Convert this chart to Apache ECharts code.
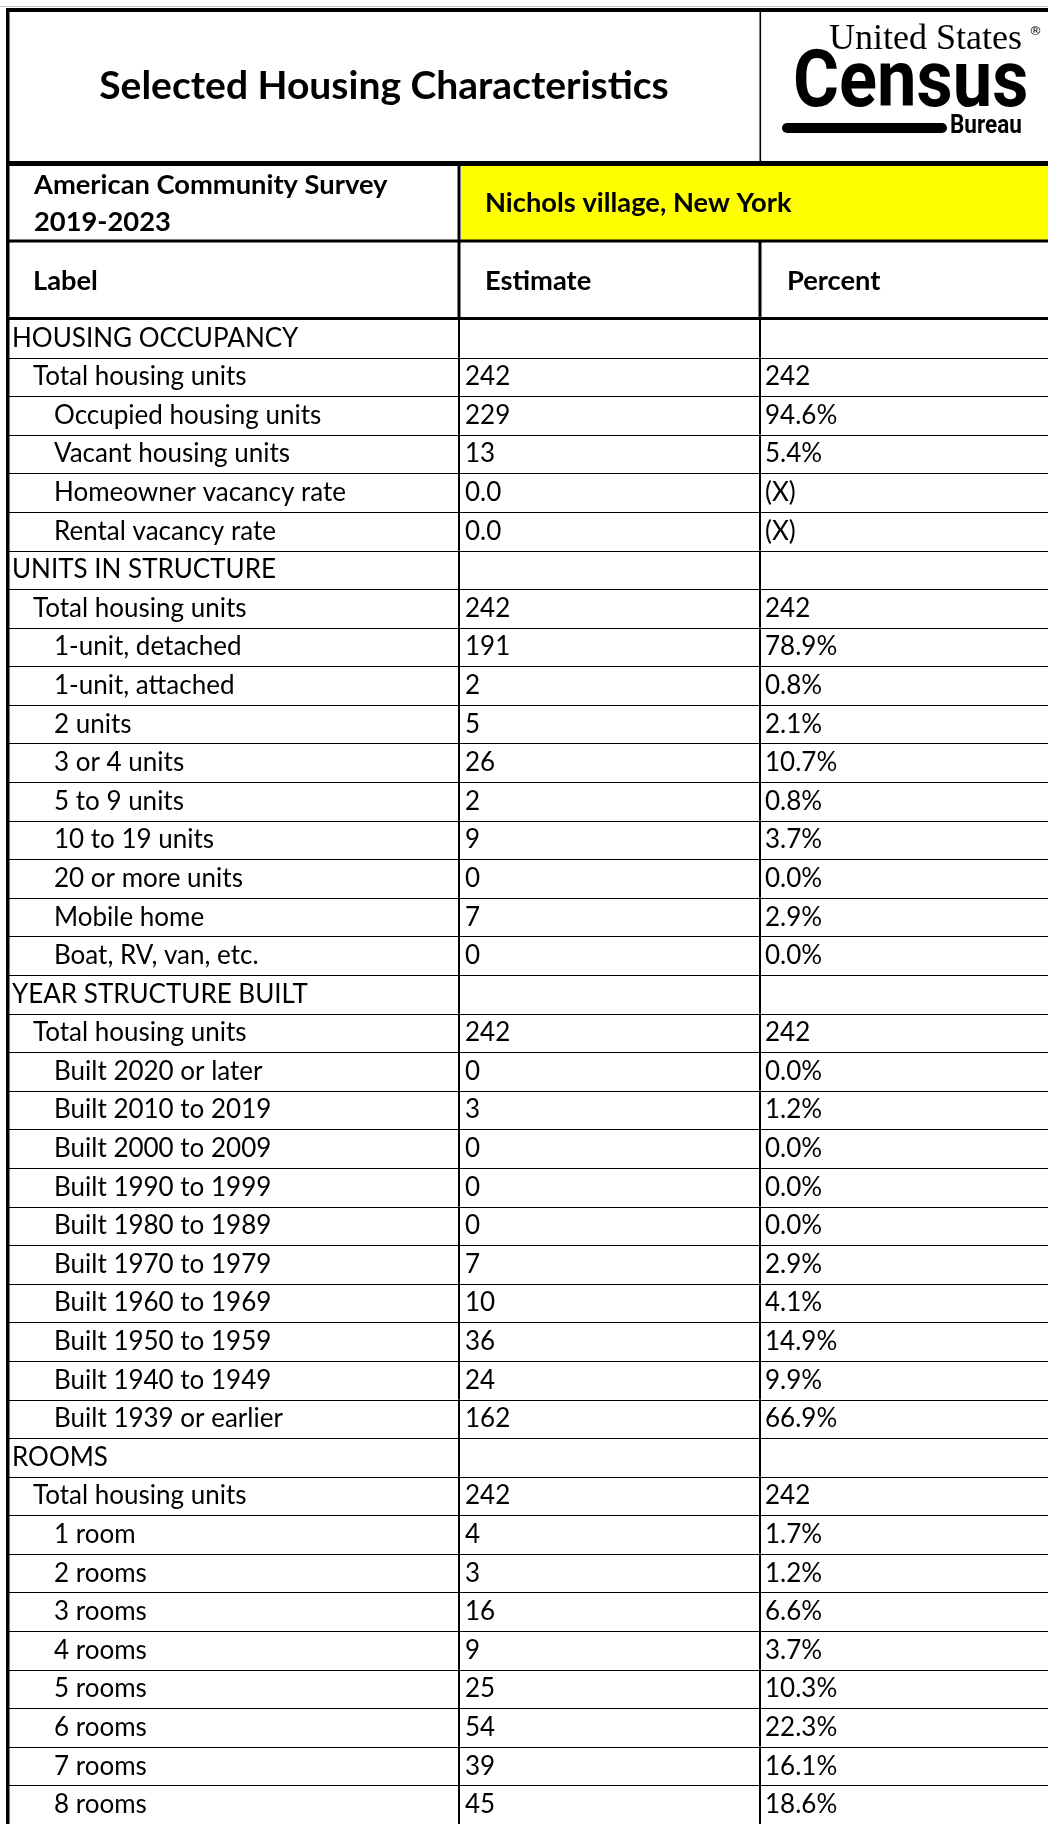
<!DOCTYPE html>
<html><head><meta charset="utf-8">
<script src="https://cdn.jsdelivr.net/npm/echarts@6/dist/echarts.min.js"></script>
<style>html,body{margin:0;padding:0;background:#fff}#c{width:1048px;height:1824px}</style>
</head><body><div id="c"></div>
<script>
// ---- data ----
const rowLabels = [
  'HOUSING OCCUPANCY','Total housing units','Occupied housing units','Vacant housing units','Homeowner vacancy rate','Rental vacancy rate',
  'UNITS IN STRUCTURE','Total housing units','1-unit, detached','1-unit, attached','2 units','3 or 4 units','5 to 9 units','10 to 19 units','20 or more units','Mobile home','Boat, RV, van, etc.',
  'YEAR STRUCTURE BUILT','Total housing units','Built 2020 or later','Built 2010 to 2019','Built 2000 to 2009','Built 1990 to 1999','Built 1980 to 1989','Built 1970 to 1979','Built 1960 to 1969','Built 1950 to 1959','Built 1940 to 1949','Built 1939 or earlier',
  'ROOMS','Total housing units','1 room','2 rooms','3 rooms','4 rooms','5 rooms','6 rooms','7 rooms','8 rooms'
];
const rowLevels = [
  0,1,2,2,2,2,
  0,1,2,2,2,2,2,2,2,2,2,
  0,1,2,2,2,2,2,2,2,2,2,2,
  0,1,2,2,2,2,2,2,2,2
];
const estimates = [
  '','242','229','13','0.0','0.0',
  '','242','191','2','5','26','2','9','0','7','0',
  '','242','0','3','0','0','0','7','10','36','24','162',
  '','242','4','3','16','9','25','54','39','45'
];
const percents = [
  '','242','94.6%','5.4%','(X)','(X)',
  '','242','78.9%','0.8%','2.1%','10.7%','0.8%','3.7%','0.0%','2.9%','0.0%',
  '','242','0.0%','1.2%','0.0%','0.0%','0.0%','2.9%','4.1%','14.9%','9.9%','66.9%',
  '','242','1.7%','1.2%','6.6%','3.7%','10.3%','22.3%','16.1%','18.6%'
];
const titleText = 'Selected Housing Characteristics';
const surveyLines = ['American Community Survey', '2019-2023'];
const placeText = 'Nichols village, New York';
const columnHeaders = ['Label', 'Estimate', 'Percent'];
const logoTexts = ['United States', '®', 'Census', 'Bureau'];

// ---- layout ----
const FONT = 'Lato';
const BODY_SIZE = 26;
const HEAD_SIZE = 27.3;
const ROW_H = 38.7;
const GRID_TOP = 319;
const colEdges = [0, 451, 752, 1040];   // axis units (px offset from grid left = 8)
const indentX = [4, 25, 46];

const chart = echarts.init(document.getElementById('c'), null, {renderer: 'canvas'});

function renderRow(params, api) {
  const i = api.value(1);
  const c = api.coord([0, i]);
  const h = api.size([0, 1])[1];
  const top = c[1] - h / 2, bottom = c[1] + h / 2, mid = c[1];
  const px = v => api.coord([v, i])[0];
  const font = BODY_SIZE + 'px ' + FONT;
  const children = [];
  const cells = [
    [indentX[rowLevels[i]], rowLabels[i]],
    [colEdges[1] + 6, estimates[i]],
    [colEdges[2] + 5, percents[i]]
  ];
  cells.forEach(([x, t]) => {
    if (!t) return;
    children.push({type: 'text', style: {text: t, x: px(x), y: mid, font: font, fill: '#000', align: 'left', verticalAlign: 'middle'}});
  });
  const yb = Math.round(bottom) + 0.5;
  children.push({type: 'line', shape: {x1: px(colEdges[0]), y1: yb, x2: px(colEdges[3]), y2: yb}, style: {stroke: '#000', lineWidth: 1}});
  [1, 2].forEach(k => {
    const x = Math.round(px(colEdges[k]));
    children.push({type: 'line', shape: {x1: x, y1: top, x2: x, y2: bottom}, style: {stroke: '#000', lineWidth: 2}});
  });
  return {type: 'group', children: children};
}

const bold = (s) => 'bold ' + s + 'px ' + FONT;
const txt = (text, x, y, font, align) => ({type: 'text', z: 10, style: {text, x, y, font, fill: '#000', align: align || 'left', verticalAlign: 'middle'}});
const rect = (x, y, w, h, fill, z) => ({type: 'rect', z: z || 5, shape: {x, y, width: w, height: h}, style: {fill}});

const graphics = [
  rect(461, 166, 587, 74, '#FFFF00', 1),
  rect(0, 6, 1048, 1, '#c8c8c8', 2),
  rect(6, 8, 1042, 4, '#000'),
  rect(6, 8, 3.5, 1816, '#000'),
  rect(759.5, 12, 1.6, 150, '#000'),
  rect(6, 161, 1042, 5, '#000'),
  rect(457.5, 166, 3, 75, '#000'),
  rect(6, 239.5, 1042, 3, '#000'),
  rect(457.5, 242, 3, 76, '#000'),
  rect(758.5, 242, 3, 76, '#000'),
  rect(6, 317, 1042, 3, '#000'),
  txt(titleText, 384, 86, bold(39), 'center'),
  txt(surveyLines[0], 34, 185, bold(HEAD_SIZE)),
  txt(surveyLines[1], 34, 222, bold(HEAD_SIZE)),
  txt(placeText, 485, 203, bold(HEAD_SIZE)),
  txt(columnHeaders[0], 33, 281, bold(HEAD_SIZE)),
  txt(columnHeaders[1], 485, 281, bold(HEAD_SIZE)),
  txt(columnHeaders[2], 787, 281, bold(HEAD_SIZE)),
  // logo
  txt(logoTexts[0], 829, 40, '36px "Liberation Serif"'),
  txt(logoTexts[1], 1029, 32, '13px "DejaVu Sans"'),
  {type: 'text', z: 10, x: 793, y: 86, scaleX: 0.88, style: {text: logoTexts[2], x: 0, y: 0, font: 'bold 80px Roboto', fill: '#000', align: 'left', verticalAlign: 'middle'}},
  {type: 'rect', z: 10, shape: {x: 782, y: 123, width: 165, height: 10, r: 5}, style: {fill: '#000'}},
  {type: 'text', z: 10, x: 950, y: 127, scaleX: 0.9, style: {text: logoTexts[3], x: 0, y: 0, font: 'bold 25px Roboto', fill: '#000', align: 'left', verticalAlign: 'middle'}}
];

chart.setOption({
  animation: false,
  backgroundColor: '#fff',
  grid: {left: 8, top: GRID_TOP, width: 1040, height: ROW_H * rowLabels.length},
  xAxis: {type: 'value', min: 0, max: 1040, show: false},
  yAxis: {type: 'category', data: rowLabels, inverse: true, show: false},
  series: [{
    type: 'custom',
    renderItem: renderRow,
    clip: false,
    data: rowLabels.map((_, i) => [0, i]),
    silent: true
  }],
  graphic: {elements: graphics}
});
</script>
</body></html>
